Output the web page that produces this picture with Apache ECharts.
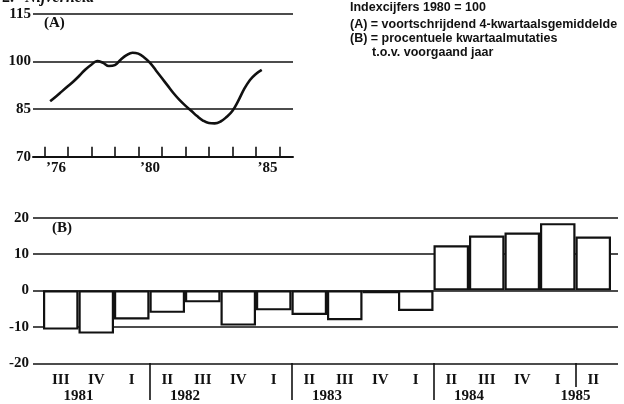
<!DOCTYPE html>
<html><head><meta charset="utf-8">
<script src="https://cdn.jsdelivr.net/npm/echarts@6/dist/echarts.min.js"></script>
<style>html,body{margin:0;padding:0;background:#fff}#c{width:624px;height:404px}</style>
</head><body><div id="c"></div>
<script>
// (A) voortschrijdend 4-kwartaalsgemiddelde, index 1980 = 100
const trendTimes = [1976.25,1976.5,1976.75,1977,1977.25,1977.5,1977.75,1978,1978.25,1978.5,1978.75,1979,1979.25,1979.5,1979.75,1980,1980.25,1980.5,1980.75,1981,1981.25,1981.5,1981.75,1982,1982.25,1982.5,1982.75,1983,1983.25,1983.5,1983.75,1984,1984.25,1984.5,1984.75,1985,1985.25];
const trendValues = [87.5,89.0,90.6,92.2,93.8,95.6,97.5,99.0,100.2,99.6,98.6,98.9,100.6,102.0,102.8,102.5,101.3,99.6,97.2,94.8,92.4,90.0,87.9,86.1,84.5,82.8,81.4,80.6,80.5,81.1,82.5,84.4,87.6,91.3,94.2,96.1,97.4];
const yearTicksA = [1976,1977,1978,1979,1980,1981,1982,1983,1984,1985,1986];
const yearLabelPosA = [1976.5,1980.5,1985.5];
const yearLabelsA = ['’76','’80','’85'];

// (B) procentuele kwartaalmutaties t.o.v. voorgaand jaar
const quarters = ['III','IV','I','II','III','IV','I','II','III','IV','I','II','III','IV','I','II'];
const mutations = [-10.8,-11.9,-8.0,-6.2,-3.3,-9.7,-5.5,-6.8,-8.2,-0.8,-5.7,12.4,15.1,15.9,18.5,14.8];
const years = ['1981','1982','1983','1984','1985'];
const yearLabelPosB = [1,4,8,12,15];
const yearSepB = [3,7,11];
const yearSepLast = [15];

const ink = '#111';
const serif = 'Liberation Serif';

const chart = echarts.init(document.getElementById('c'), null, {renderer:'canvas'});
chart.setOption({
  animation:false,
  backgroundColor:'#fff',
  grid:[
    {left:33, right:331, top:14, height:142.7},
    {left:33, right:6, top:217.7, height:145.6},
    {left:43, right:13, top:217.7, height:145.6}
  ],
  xAxis:[
    {gridIndex:0, type:'value', min:1975.52, max:1986.58,
     axisLine:{lineStyle:{color:ink, width:2}},
     axisTick:{customValues:yearTicksA, inside:true, length:10, lineStyle:{color:ink, width:1.6}},
     axisLabel:{customValues:yearLabelPosA, formatter:v=>yearLabelsA[yearLabelPosA.indexOf(v)]||'', color:ink, fontFamily:serif, fontSize:15, fontWeight:'bold', margin:4},
     splitLine:{show:false}},
    {gridIndex:1, type:'value', min:0, max:1, show:false},
    {gridIndex:2, type:'category', data:quarters, position:'bottom',
     axisLine:{show:false}, axisTick:{show:false},
     axisLabel:{color:ink, fontFamily:serif, fontSize:15, fontWeight:'bold', margin:10}},
    {gridIndex:2, type:'value', min:0, max:16, position:'bottom', offset:0,
     axisLine:{show:false},
     axisTick:{customValues:yearSepB, length:37, lineStyle:{color:ink, width:1.6}},
     axisLabel:{customValues:yearLabelPosB, formatter:v=>years[yearLabelPosB.indexOf(v)]||'', color:ink, fontFamily:serif, fontSize:15, fontWeight:'bold', margin:26},
     splitLine:{show:false}},
    {gridIndex:2, type:'value', min:0, max:16, position:'bottom', offset:0,
     axisLine:{show:false},
     axisTick:{customValues:yearSepLast, length:24, lineStyle:{color:ink, width:1.6}},
     axisLabel:{show:false},
     splitLine:{show:false}}
  ],
  yAxis:[
    {gridIndex:0, type:'value', min:70, max:115, interval:15,
     axisLine:{show:false}, axisTick:{show:false},
     axisLabel:{color:ink, fontFamily:serif, fontSize:15, fontWeight:'bold', margin:2},
     splitLine:{lineStyle:{color:ink, width:1.7}}},
    {gridIndex:1, type:'value', min:-20, max:20, interval:10,
     axisLine:{show:false}, axisTick:{show:false},
     axisLabel:{color:ink, fontFamily:serif, fontSize:15, fontWeight:'bold', margin:4},
     splitLine:{lineStyle:{color:ink, width:1.7}}},
    {gridIndex:2, type:'value', min:-20, max:20, interval:10, show:false}
  ],
  series:[
    {type:'line', xAxisIndex:0, yAxisIndex:0, smooth:0.4, showSymbol:false,
     lineStyle:{color:ink, width:2.6},
     data:trendTimes.map((t,i)=>[t, trendValues[i]])},
    {type:'bar', xAxisIndex:2, yAxisIndex:2, barWidth:'100%', barCategoryGap:0,
     itemStyle:{color:'#fff', borderColor:ink, borderWidth:2.2},
     data:mutations}
  ],
  graphic:[
    {type:'text', left:2, top:-10, style:{text:'2.', font:'bold 16px "Liberation Serif"', fill:ink}},
    {type:'text', left:25, top:-10, style:{text:'Nijverheid', font:'italic bold 16px "Liberation Serif"', fill:ink}},
    {type:'text', left:44, top:16, style:{text:'(A)', font:'bold 15px "Liberation Serif"', fill:ink}},
    {type:'text', left:52, top:221, style:{text:'(B)', font:'bold 15px "Liberation Serif"', fill:ink}},
    {type:'text', left:350, top:1, style:{text:'Indexcijfers 1980 = 100', font:'bold 12.5px "Liberation Sans"', fill:ink}},
    {type:'text', left:350, top:18, style:{text:'(A) = voortschrijdend 4-kwartaalsgemiddelde', font:'bold 12.5px "Liberation Sans"', fill:ink}},
    {type:'text', left:350, top:32, style:{text:'(B) = procentuele kwartaalmutaties', font:'bold 12.5px "Liberation Sans"', fill:ink}},
    {type:'text', left:372, top:46, style:{text:'t.o.v. voorgaand jaar', font:'bold 12.5px "Liberation Sans"', fill:ink}}
  ]
});
</script></body></html>
